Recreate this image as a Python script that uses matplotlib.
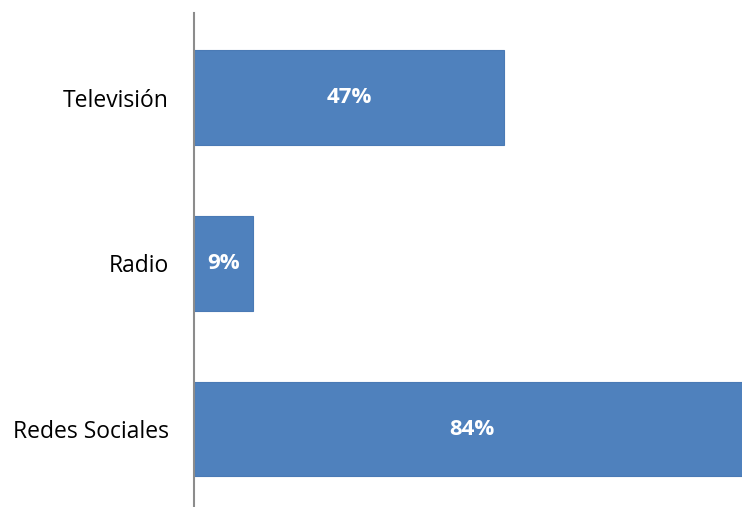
import matplotlib.pyplot as plt

medios = ['Televisión', 'Radio', 'Redes Sociales']
porcentajes = [47, 9, 84]

plt.rcParams['font.family'] = ['Open Sans', 'DejaVu Sans']

fig = plt.figure(figsize=(7.42, 5.07), dpi=100)
ax = fig.add_axes([193.5 / 742, 0, 1 - 193.5 / 742, 1 - 13 / 507])

pos = range(len(medios))
bars = ax.barh(pos, porcentajes, height=0.57, color='#4F81BD', edgecolor='#4A7AB5', lw=0.8)

for b, v in zip(bars, porcentajes):
    ax.text(v / 2, b.get_y() + b.get_height() / 2, f'{v}%', ha='center', va='center',
            color='white', fontsize=16, fontweight='bold')

ax.set_xlim(0, 82.9)
ax.set_ylim(2.47, -0.51)
ax.set_yticks(list(pos))
ax.set_yticklabels(medios, fontsize=16.5)
ax.tick_params(axis='y', length=0, pad=18)
ax.set_xticks([])

for s in ['top', 'right', 'bottom']:
    ax.spines[s].set_visible(False)
ax.spines['left'].set_color('#8C8C8C')
ax.spines['left'].set_linewidth(1.5)

fig.savefig('out.png', dpi=100)
